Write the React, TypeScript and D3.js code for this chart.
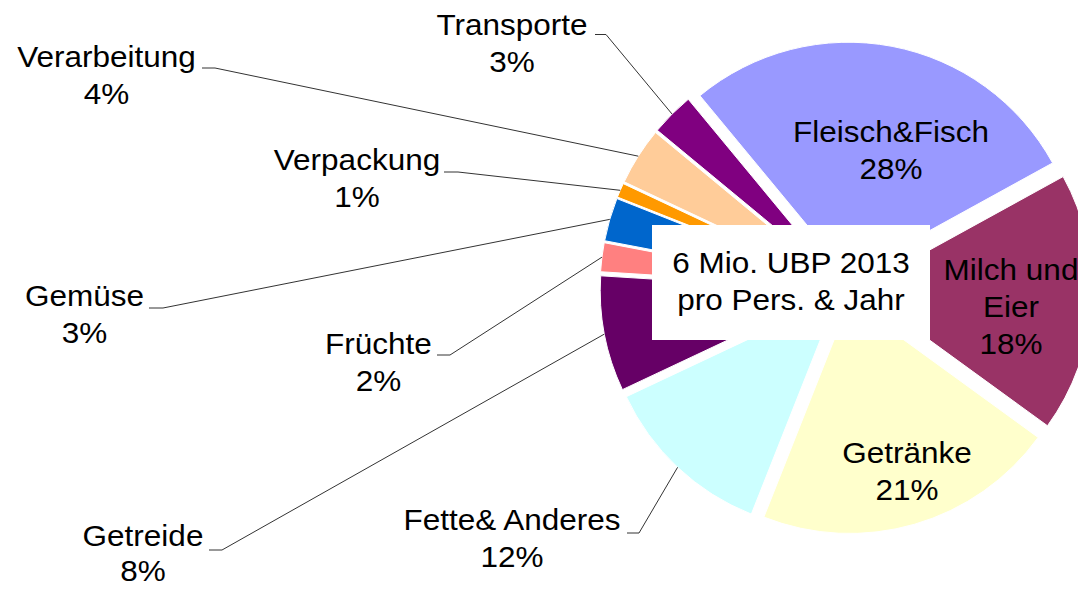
import React from "react";
import * as d3 from "d3";

// data (percent of total)
const categories = [
  "Fleisch&Fisch",
  "Milch und\nEier",
  "Getränke",
  "Fette& Anderes",
  "Getreide",
  "Früchte",
  "Gemüse",
  "Verpackung",
  "Verarbeitung",
  "Transporte",
];
const shares = [28, 18, 21, 12, 8, 2, 3, 1, 4, 3];
const colors = [
  "#9999FF",
  "#993366",
  "#FFFFCC",
  "#CCFFFF",
  "#660066",
  "#FF8080",
  "#0066CC",
  "#FF9900",
  "#FFCC99",
  "#800080",
];
const centerText = ["6 Mio. UBP 2013", "pro Pers. & Jahr"];

// label layout: text centre x, first baseline y; leader elbow (x1, x2, y) for outside labels
const labelLayout: { x: number; y: number; elbow?: [number, number, number] }[] = [
  { x: 891, y: 142 },
  { x: 1011, y: 280 },
  { x: 907, y: 463 },
  { x: 512, y: 530, elbow: [627, 639, 533] },
  { x: 143, y: 546, elbow: [209, 222, 550] },
  { x: 378.5, y: 353.5, elbow: [437, 450, 355] },
  { x: 84.5, y: 306, elbow: [149, 163, 308] },
  { x: 357, y: 170, elbow: [444, 458, 172] },
  { x: 106.5, y: 67, elbow: [202, 215, 68] },
  { x: 512, y: 35, elbow: [595, 606, 34.5] },
];

const W = 1078;
const H = 590;
const cx = 846;
const cy = 288;
const R = 233;
const explode = 13;
const start = (-39.6 * Math.PI) / 180;
const fontSize = 30;
const lineH = 37;
const font = "'Liberation Sans', Arial, sans-serif";

const App = () => {
  const pie = d3
    .pie<number>()
    .sort(null)
    .startAngle(start)
    .endAngle(start + 2 * Math.PI);
  const arcs = pie(shares);
  const arc = d3.arc<d3.PieArcDatum<number>>().innerRadius(0).outerRadius(R);

  const label = (lines: string[], x: number, y: number, key: string, lh = lineH) =>
    lines.map((t, j) => (
      <text
        key={key + j}
        transform={`translate(${x},${y + j * lh}) scale(1.05,1)`}
        textAnchor="middle"
        fontSize={fontSize}
        fontFamily={font}
        fill="#000"
      >
        {t}
      </text>
    ));

  return (
    <svg
      width={W}
      height={H}
      style={{ position: "absolute", left: 0, top: 0, background: "#fff" }}
    >
      <g>
        {arcs.map((a, i) => {
          const mid = (a.startAngle + a.endAngle) / 2;
          const dx = explode * Math.sin(mid);
          const dy = -explode * Math.cos(mid);
          return (
            <path
              key={i}
              d={arc(a) || ""}
              transform={`translate(${cx + dx},${cy + dy})`}
              fill={colors[i]}
              stroke="#fff"
              strokeWidth={1}
            />
          );
        })}
      </g>

      {/* leader lines */}
      <g fill="none" stroke="#333" strokeWidth={1}>
        {arcs.map((a, i) => {
          const lay = labelLayout[i];
          if (!lay.elbow) return null;
          const mid = (a.startAngle + a.endAngle) / 2;
          const r = R + explode;
          const ex = cx + r * Math.sin(mid);
          const ey = cy - r * Math.cos(mid);
          const [x1, x2, y] = lay.elbow;
          const line = d3.line()([
            [x1, y],
            [x2, y],
            [ex, ey],
          ]);
          return <path key={i} d={line || ""} />;
        })}
      </g>

      {/* centre text box */}
      <rect x={652} y={225} width={278} height={115} fill="#fff" />
      {label(centerText, 791, 273, "c")}

      {categories.map((c, i) =>
        label(
          [...c.split("\n"), `${shares[i]}%`],
          labelLayout[i].x,
          labelLayout[i].y,
          "l" + i,
          i === 4 ? 35 : lineH
        )
      )}
    </svg>
  );
};

export default App;
